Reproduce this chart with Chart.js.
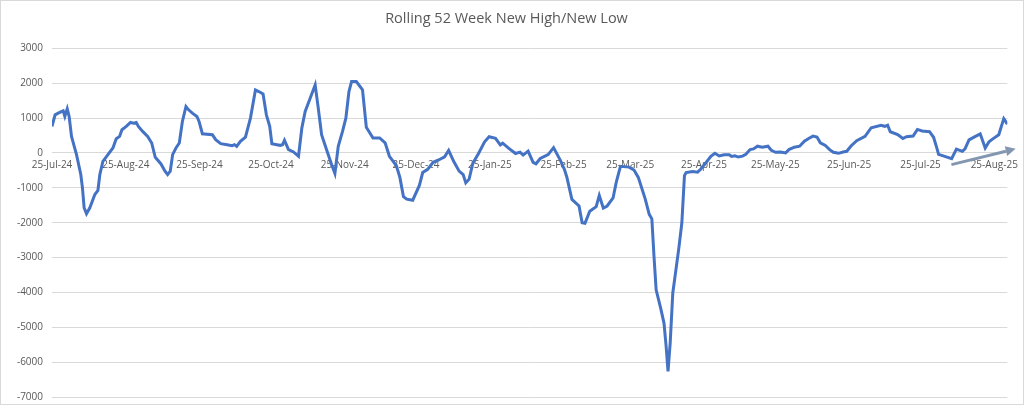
<!DOCTYPE html>
<html>
<head>
<meta charset="utf-8">
<title>Rolling 52 Week New High/New Low</title>
<script src="https://cdn.jsdelivr.net/npm/chart.js@4.4.1/dist/chart.umd.min.js"></script>
<style>
    html, body { margin: 0; padding: 0; background: #ffffff; }
    #wrap { width: 1024px; height: 405px; position: relative; }
</style>
</head>
<body>
<div id="wrap"><canvas id="highLowChart" width="1024" height="405"></canvas></div>
<script>
// Days counted from 25-Jul-24, and the net new high/new low count
const days = [
    0, 1.3, 2.6, 4.7, 5.4, 6.4, 7.2, 8.2, 10.3, 12.1, 12.8, 13.5, 14.5, 15.9, 18.0, 19.3,
    20.1, 21.4, 23.5, 25.6, 27.0, 28.4, 29.4, 31.2, 33.0, 34.3, 35.4, 36.3, 38.1, 40.2,
    41.9, 43.4, 45.8, 47.5, 48.6, 49.7, 50.7, 52.1, 53.5, 54.8, 56.3, 57.4, 59.0, 60.9,
    61.8, 63.2, 67.4, 68.8, 70.9, 73.6, 75.7, 76.7, 77.6, 79.2, 81.3, 83.4, 85.5, 86.9,
    88.7, 90.1, 91.5, 92.4, 94.5, 95.9, 96.9, 97.7, 99.4, 101.5, 103.6, 105.0, 106.4,
    108.5, 110.6, 111.9, 113.3, 115.4, 117.5, 118.9, 120.3, 122.1, 123.5, 124.8, 125.9,
    127.9, 130.5, 132.1, 134.9, 137.7, 140.0, 141.8, 144.7, 146.2, 147.7, 149.1, 151.6,
    154.4, 155.8, 157.9, 160.2, 162.5, 165.0, 166.7, 168.8, 171.1, 172.8, 173.9, 175.3,
    176.9, 179.2, 181.8, 183.7, 186.4, 188.4, 189.4, 192.0, 194.8, 196.7, 198.0, 200.1,
    202.2, 203.4, 205.2, 208.5, 210.8, 213.7, 215.4, 216.4, 218.5, 221.5, 222.8, 224.0,
    226.0, 228.7, 230.0, 231.7, 233.3, 235.8, 237.1, 238.9, 242.5, 244.6, 246.4, 249.3,
    251.0, 252.1, 253.0, 253.9, 255.8, 257.2, 258.1, 258.9, 259.8, 260.9, 263.4, 264.7,
    265.8, 266.5, 269.3, 271.3, 272.6, 274.9, 276.9, 278.6, 280.4, 282.5, 284.6, 285.6,
    287.0, 288.4, 290.2, 291.6, 293.4, 294.8, 296.5, 298.5, 300.9, 302.3, 304.1, 306.2,
    308.3, 309.7, 312.0, 314.2, 316.2, 318.0, 319.8, 321.5, 322.9, 325.0, 326.8, 328.4,
    330.5, 332.5, 334.0, 335.8, 338.2, 341.7, 344.3, 348.4, 350.0, 351.2, 352.3, 355.4,
    357.6, 359.1, 361.9, 363.7, 365.7, 368.8, 370.5, 372.0, 372.6, 375.5, 378.1, 380.1,
    382.6, 383.7, 385.4, 387.7, 390.1, 392.2, 393.8, 395.4, 397.9, 400.0, 401.5
];
const values = [
    762, 1095, 1143, 1210, 1048, 1267, 1048, 476, -48, -619, -1000, -1571, -1743, -1571, -1190, -1076,
    -619, -238, -48, 143, 410, 476, 667, 762, 876, 857, 876, 762, 619, 476,
    286, -124, -314, -524, -619, -524, -48, 143, 286, 905, 1333, 1238, 1143, 1048,
    905, 552, 524, 381, 267, 238, 210, 238, 190, 333, 457, 1000, 1810, 1762,
    1695, 1095, 762, 267, 238, 219, 238, 362, 95, 29, -95, 714, 1190,
    1571, 1952, 1286, 524, 95, -333, -590, 190, 619, 1000, 1762, 2048,
    2048, 1810, 740, 430, 433, 290, -96, -360, -700, -1250, -1325, -1355,
    -930, -560, -468, -268, -200, -110, 76, -239, -520, -621, -858, -750,
    -287, -20, 320, 465, 420, 230, 280, 130, -15, 25, -60, 55,
    -268, -310, -158, -48, 153, -220, -480, -700, -1330, -1520, -2000, -2017,
    -1673, -1540, -1220, -1578, -1520, -1290, -850, -383, -405, -490, -700, -1315,
    -1760, -1890, -2967, -3923, -4450, -4880, -5550, -6263, -5455, -4015, -2750, -2010,
    -650, -563, -534, -550, -466, -272, -97, -10, -85, -49, -49, -100,
    -80, -117, -90, -40, 97, 117, 194, 165, 194, 78, 19, 29,
    0, 97, 165, 194, 340, 417, 485, 456, 291, 214, 97, 19,
    -10, 29, 48, 200, 352, 476, 724, 795, 765, 795, 610, 530,
    415, 465, 485, 675, 630, 610, 450, 110, -40, -105, -162, 110,
    48, 120, 375, 462, 548, 140, 323, 405, 524, 985, 829
];

// Month ticks on the 25th
const tickDays = [0, 31, 62, 92, 123, 153, 184, 215, 243, 274, 304, 335, 365, 396];
const tickLabels = ['25-Jul-24', '25-Aug-24', '25-Sep-24', '25-Oct-24', '25-Nov-24', '25-Dec-24',
    '25-Jan-25', '25-Feb-25', '25-Mar-25', '25-Apr-25', '25-May-25', '25-Jun-25', '25-Jul-25', '25-Aug-25'];

// Trend arrow drawn on the chart (day, value)
const arrowFrom = [378, -335];
const arrowTo = [405, 120];

const textColor = '#595959';
const gridColor = '#d9d9d9';

// Border around the chart and the white background
const chartFrame = {
    id: 'chartFrame',
    beforeDraw(chart) {
        const c = chart.ctx;
        c.save();
        c.fillStyle = '#ffffff';
        c.fillRect(0, 0, chart.width, chart.height);
        c.strokeStyle = gridColor;
        c.lineWidth = 1;
        c.strokeRect(0.5, 0.5, chart.width - 1, chart.height - 1);
        c.restore();
    }
};

// Grey-blue arrow pointing up-right
const trendArrow = {
    id: 'trendArrow',
    afterDatasetsDraw(chart) {
        const x = chart.scales.x;
        const y = chart.scales.y;
        const x1 = x.getPixelForValue(arrowFrom[0]);
        const y1 = y.getPixelForValue(arrowFrom[1]);
        const x2 = x.getPixelForValue(arrowTo[0]);
        const y2 = y.getPixelForValue(arrowTo[1]);
        const ang = Math.atan2(y2 - y1, x2 - x1);
        const headLen = 10;
        const headW = 5;
        const c = chart.ctx;
        c.save();
        c.strokeStyle = '#8497b0';
        c.fillStyle = '#8497b0';
        c.lineWidth = 3;
        c.beginPath();
        c.moveTo(x1, y1);
        c.lineTo(x2 - headLen * Math.cos(ang), y2 - headLen * Math.sin(ang));
        c.stroke();
        c.beginPath();
        c.moveTo(x2, y2);
        c.lineTo(x2 - headLen * Math.cos(ang) + headW * Math.sin(ang), y2 - headLen * Math.sin(ang) - headW * Math.cos(ang));
        c.lineTo(x2 - headLen * Math.cos(ang) - headW * Math.sin(ang), y2 - headLen * Math.sin(ang) + headW * Math.cos(ang));
        c.closePath();
        c.fill();
        c.restore();
    }
};

function crearGrafico() {
    const ctx = document.getElementById('highLowChart').getContext('2d');
    const puntos = days.map((d, i) => ({ x: d, y: values[i] }));

    new Chart(ctx, {
        type: 'line',
        data: {
            datasets: [{
                label: 'Net New Highs',
                data: puntos,
                borderColor: '#4472c4',
                borderWidth: 3,
                pointRadius: 0,
                tension: 0,
                fill: false
            }]
        },
        options: {
            responsive: false,
            animation: false,
            layout: {
                padding: { left: 0, right: 11, top: 0, bottom: 8 }
            },
            plugins: {
                legend: { display: false },
                tooltip: { enabled: false },
                title: {
                    display: true,
                    text: 'Rolling 52 Week New High/New Low',
                    color: textColor,
                    font: { family: 'Open Sans', size: 14.5, weight: 'normal' },
                    padding: { top: 10, bottom: 21 }
                }
            },
            scales: {
                x: {
                    type: 'linear',
                    position: { y: 0 },
                    min: 0,
                    max: days[days.length - 1],
                    grid: { display: false, drawTicks: false },
                    border: { display: false },
                    afterBuildTicks: function(scale) {
                        scale.ticks = tickDays.map(v => ({ value: v }));
                    },
                    ticks: {
                        autoSkip: false,
                        maxRotation: 0,
                        padding: 6,
                        color: textColor,
                        font: { family: 'Open Sans', size: 10 },
                        callback: function(value) {
                            const i = tickDays.indexOf(value);
                            return i >= 0 ? tickLabels[i] : '';
                        }
                    }
                },
                y: {
                    min: -7000,
                    max: 3000,
                    afterFit: function(scale) {
                        scale.width = 52;
                    },
                    // invisible tick marks keep the labels off the plot without extra padding
                    grid: { color: gridColor, lineWidth: 1, drawTicks: true, tickLength: 9, tickColor: 'rgba(0,0,0,0)' },
                    border: { display: false },
                    ticks: {
                        stepSize: 1000,
                        padding: 0,
                        color: textColor,
                        font: { family: 'Open Sans', size: 10 },
                        callback: function(value) {
                            return String(value);
                        }
                    }
                }
            }
        },
        plugins: [chartFrame, trendArrow]
    });
}

document.addEventListener('DOMContentLoaded', crearGrafico);
</script>
</body>
</html>
